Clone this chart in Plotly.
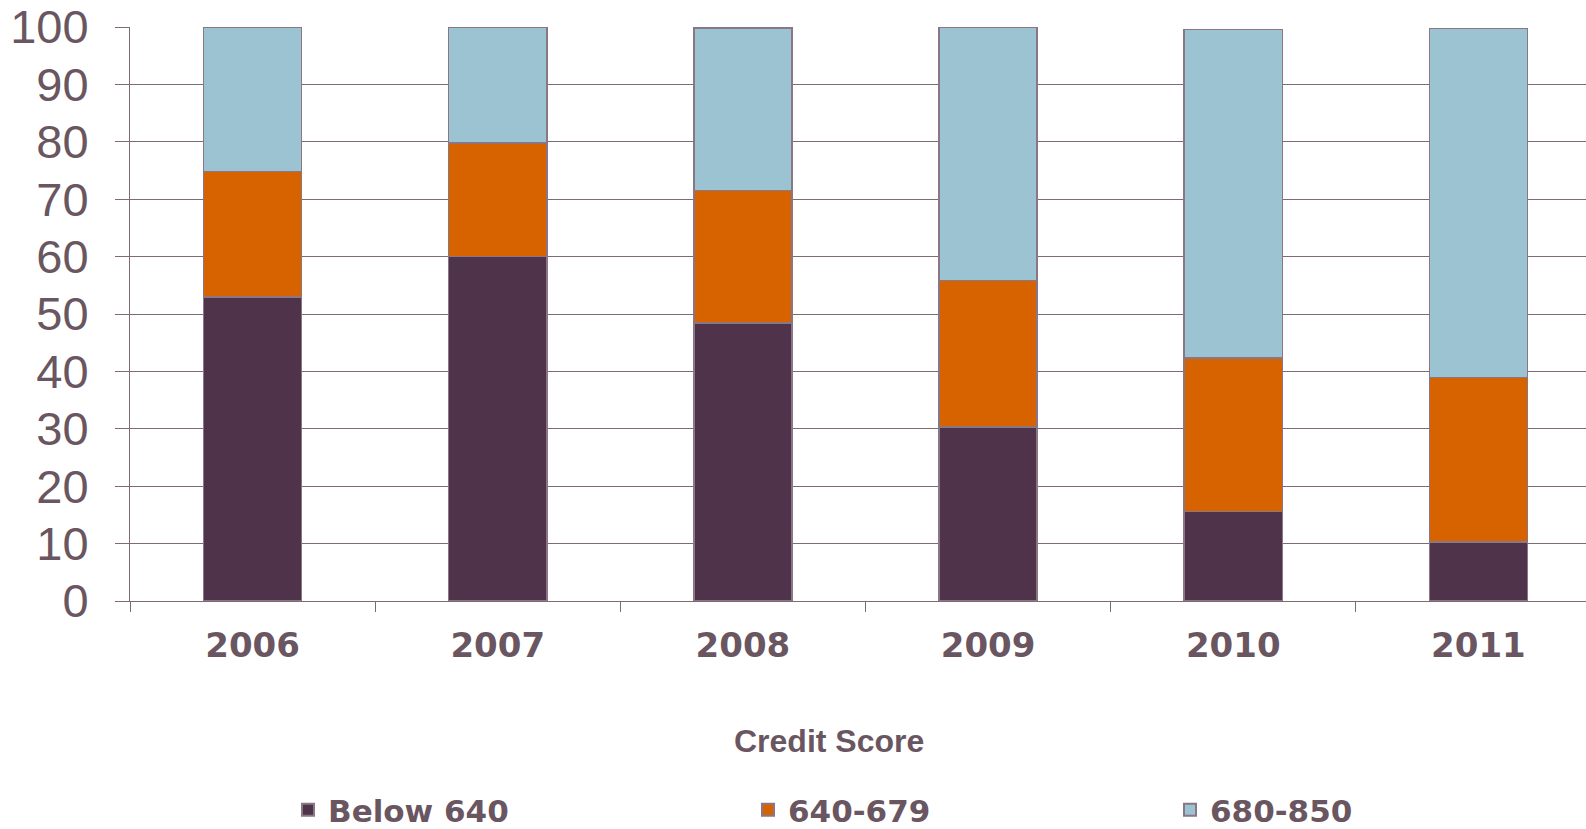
import plotly.graph_objects as go

years = ["2006", "2007", "2008", "2009", "2010", "2011"]
below_640 = [53.0, 60.0, 48.4, 30.3, 15.6, 10.3]
s640_679 = [21.8, 19.75, 23.1, 25.5, 26.7, 28.6]
s680_850 = [25.2, 20.25, 28.3, 44.2, 57.3, 60.8]
series_names = ["Below 640", "640-679", "680-850"]
y_ticks = [0, 10, 20, 30, 40, 50, 60, 70, 80, 90, 100]
x_title = "Credit Score"

colors = ["#4F334B", "#D66300", "#9BC3D1"]
text_color = "#6A5661"
grid_color = "#7E6A75"
edge_color = "#8A7684"

W, H = 1586, 829
L, T, B = 129.5, 26.7, H - 600.7
PH = H - T - B
fig = go.Figure()
legends = ["legend", "legend2", "legend3"]
for vals, name, col, lg in zip([below_640, s640_679, s680_850], series_names, colors, legends):
    fig.add_trace(go.Bar(
        x=years, y=vals, name=name, legend=lg,
        marker=dict(color=col, line=dict(color=edge_color, width=1.5)),
        width=0.4,
    ))

leg_x = [288, 748, 1170]
leg_common = dict(
    orientation="h", xref="container", yref="container",
    xanchor="left", yanchor="middle", y=1 - 810 / H,
    font=dict(family="DejaVu Sans", size=31, color=text_color, weight="bold"),
    bgcolor="rgba(0,0,0,0)", borderwidth=0, itemsizing="constant",
)
layout_legends = {}
for lg, px in zip(legends, leg_x):
    layout_legends[lg] = dict(x=px / W, **leg_common)

fig.update_layout(
    width=W, height=H,
    margin=dict(l=L, r=0, t=T, b=B, pad=0),
    barmode="stack",
    plot_bgcolor="white", paper_bgcolor="white",
    showlegend=True,
    **layout_legends,
    xaxis=dict(
        range=[-0.5, 5.439],
        tickson="boundaries", ticks="outside", ticklen=10, tickcolor=grid_color,
        showline=True, linecolor=grid_color, linewidth=1,
        showgrid=False,
        tickfont=dict(family="DejaVu Sans", size=34, color=text_color, weight="bold"),
        ticklabelstandoff=14,
    ),
    yaxis=dict(
        range=[0, 100], tickvals=y_ticks,
        ticks="outside", ticklen=14, tickcolor=grid_color,
        showline=True, linecolor=grid_color, linewidth=1,
        showgrid=True, gridcolor=grid_color, gridwidth=1,
        zeroline=False,
        tickfont=dict(family="Liberation Sans", size=47, color=text_color),
        ticklabelstandoff=17,
    ),
    annotations=[dict(
        text=x_title, xref="paper", yref="paper",
        x=(829 - L) / (W - L), y=-(741 - (H - B)) / PH,
        xanchor="center", yanchor="middle", showarrow=False,
        font=dict(family="Liberation Sans", size=32, color=text_color, weight="bold"),
    )],
)

fig.write_html("out.html")
